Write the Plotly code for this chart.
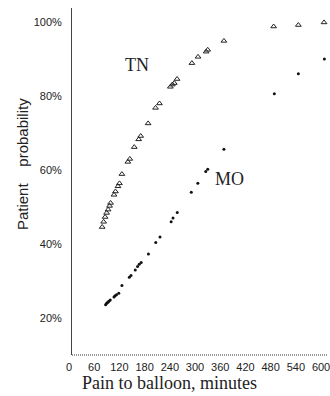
import plotly.graph_objects as go

# Cumulative probability (%) of reaching balloon by time since pain onset (minutes)
tn_minutes = [71.8, 75.3, 78.8, 82.4, 85.9, 89.4, 91.8, 100.0, 103.5, 109.4, 112.9,
              118.8, 132.9, 137.6, 148.2, 158.8, 163.5, 181.2, 198.8, 208.2, 234.1,
              238.8, 243.5, 250.1, 285.4, 300.0, 319.3, 323.1, 361.6, 480.0, 538.8, 600.0]
tn_prob = [44.6, 46.0, 47.3, 48.4, 49.3, 50.3, 51.1, 53.3, 54.2, 55.6, 56.4,
           58.9, 62.2, 63.0, 66.2, 68.3, 69.2, 72.6, 76.8, 78.0, 82.5,
           83.1, 83.5, 84.6, 88.9, 90.6, 92.0, 92.5, 94.9, 98.8, 99.2, 99.9]

mo_minutes = [80.0, 82.0, 84.0, 86.0, 87.8, 91.1, 100.0, 102.5, 105.9, 111.3, 118.8,
              136.5, 140.5, 150.6, 156.0, 160.0, 164.7, 181.9, 199.3, 209.4, 236.0,
              240.5, 250.6, 284.0, 299.5, 318.4, 323.1, 361.6, 481.6, 538.8, 600.7]
mo_prob = [23.6, 23.9, 24.1, 24.3, 24.5, 24.9, 25.7, 26.0, 26.3, 26.7, 28.8,
           31.0, 31.5, 33.0, 33.9, 34.5, 35.0, 37.3, 40.4, 41.9, 46.0,
           47.0, 48.5, 54.0, 56.4, 59.6, 60.2, 65.6, 80.6, 86.0, 90.0]

x_ticks = list(range(0, 601, 60))
y_ticks = [20, 40, 60, 80, 100]
y_tick_text = [f"{v}%" for v in y_ticks]

fig = go.Figure()
fig.add_trace(go.Scatter(
    x=tn_minutes, y=tn_prob, mode="markers", name="TN",
    marker=dict(symbol="triangle-up-open", size=5, color="#222",
                line=dict(width=1, color="#222")),
    cliponaxis=False,
))
fig.add_trace(go.Scatter(
    x=mo_minutes, y=mo_prob, mode="markers", name="MO",
    marker=dict(symbol="circle", size=3, color="#111"),
    cliponaxis=False,
))

sans = "Liberation Sans, Arial, sans-serif"
serif = "Liberation Serif, Times New Roman, serif"
ink = "#222"

fig.update_layout(
    width=330, height=396,
    margin=dict(l=72, r=0, t=8, b=41),
    paper_bgcolor="white", plot_bgcolor="white",
    showlegend=False,
    xaxis=dict(
        range=[0, 607], tickvals=x_ticks, ticks="", showgrid=False,
        zeroline=False, showline=False,
        tickfont=dict(family=sans, size=11, color=ink),
        ticklabelshift=-3, ticklabelstandoff=4, ticklabeloverflow="allow",
    ),
    yaxis=dict(
        range=[10, 103.8], tickvals=y_ticks, ticktext=y_tick_text,
        showgrid=False, zeroline=False,
        showline=True, linecolor="#444", linewidth=1,
        ticks="", ticklabelstandoff=7,
        tickfont=dict(family=sans, size=11, color=ink),
    ),
    shapes=[
        # dotted baseline along the time axis
        dict(type="line", xref="paper", yref="paper", x0=0, x1=1, y0=0, y1=0,
             line=dict(color="#333", width=1, dash="1px,1px")),
    ],
    annotations=[
        dict(text="TN", x=155, y=88.5, xref="x", yref="y", showarrow=False,
             font=dict(family=serif, size=18, color=ink)),
        dict(text="MO", x=376, y=57.5, xref="x", yref="y", showarrow=False,
             font=dict(family=serif, size=18, color=ink)),
        dict(text="Pain to balloon, minutes", x=171, y=383, xref="paper", yref="paper",
             xanchor="center", yanchor="middle", showarrow=False,
             font=dict(family=serif, size=18, color=ink)),
        dict(text="Patient\u00a0\u00a0\u00a0\u00a0probability", textangle=-90,
             x=22, y=164.5, xref="paper", yref="paper", xanchor="center",
             yanchor="middle", showarrow=False,
             font=dict(family=sans, size=15, color=ink)),
    ],
)

# place the two axis titles in pixel terms relative to the plot area
plot_w, plot_h = 330 - 72, 396 - 8 - 41
for ann in fig.layout.annotations[2:]:
    ann.x = (ann.x - 72) / plot_w
    ann.y = (396 - 41 - ann.y) / plot_h

fig.write_html("out.html")
